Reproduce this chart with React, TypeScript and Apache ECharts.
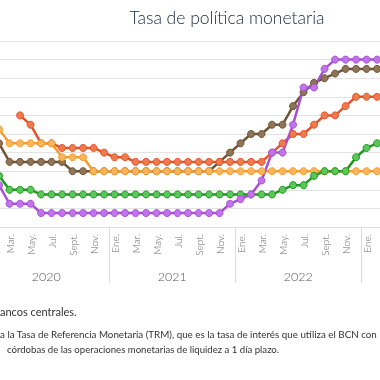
import React, { useEffect, useRef } from "react";
import * as echarts from "echarts";

const categories = [
  "2020-01","2020-02","2020-03","2020-04","2020-05","2020-06","2020-07","2020-08","2020-09","2020-10","2020-11","2020-12",
  "2021-01","2021-02","2021-03","2021-04","2021-05","2021-06","2021-07","2021-08","2021-09","2021-10","2021-11","2021-12",
  "2022-01","2022-02","2022-03","2022-04","2022-05","2022-06","2022-07","2022-08","2022-09","2022-10","2022-11","2022-12",
  "2023-01","2023-02",
];
const monthNames = ["Ene.","Feb.","Mar.","Abr.","May.","Jun.","Jul.","Ago.","Sept.","Oct.","Nov.","Dic."];

// Nicaragua (TRM)
const nicaragua = [null, null, null, 6.0, 5.5, 4.5, 4.5, 4.25, 4.25, 4.25, 4.25, 4.0,
  3.75, 3.75, 3.5, 3.5, 3.5, 3.5, 3.5, 3.5, 3.5, 3.5, 3.5, 3.5,
  3.5, 3.5, 3.5, 4.0, 4.5, 5.0, 5.0, 5.5, 6.0, 6.0, 6.5, 7.0,
  7.0, 7.0];
// Honduras
const honduras = [null, 5.25, 4.5, 4.5, 4.5, 4.5, 4.5, 3.75, 3.75, 3.75, 3.0, 3.0,
  3.0, 3.0, 3.0, 3.0, 3.0, 3.0, 3.0, 3.0, 3.0, 3.0, 3.0, 3.0,
  3.0, 3.0, 3.0, 3.0, 3.0, 3.0, 3.0, 3.0, 3.0, 3.0, 3.0, 3.0,
  3.0, 3.0];
// República Dominicana
const dominicana = [null, 4.5, 3.5, 3.5, 3.5, 3.5, 3.5, 3.5, 3.0, 3.0, 3.0, 3.0,
  3.0, 3.0, 3.0, 3.0, 3.0, 3.0, 3.0, 3.0, 3.0, 3.0, 3.5, 4.0,
  4.5, 5.0, 5.0, 5.5, 5.5, 6.5, 7.25, 7.75, 8.0, 8.25, 8.5, 8.5,
  8.5, 8.5];
// Guatemala
const guatemala = [null, 2.75, 2.0, 2.0, 2.0, 1.75, 1.75, 1.75, 1.75, 1.75, 1.75, 1.75,
  1.75, 1.75, 1.75, 1.75, 1.75, 1.75, 1.75, 1.75, 1.75, 1.75, 1.75, 1.75,
  1.75, 1.75, 1.75, 1.75, 2.0, 2.25, 2.25, 2.75, 3.0, 3.0, 3.0, 3.75,
  4.25, 4.5];
// Costa Rica
const costaRica = [null, 2.25, 1.25, 1.25, 1.25, 0.75, 0.75, 0.75, 0.75, 0.75, 0.75, 0.75,
  0.75, 0.75, 0.75, 0.75, 0.75, 0.75, 0.75, 0.75, 0.75, 0.75, 0.75, 1.25,
  1.5, 1.75, 2.5, 4.0, 4.0, 5.5, 7.5, 7.5, 8.5, 9.0, 9.0, 9.0,
  9.0, 9.0];

const title = "Tasa de política monetaria";
const footLines = [
  "ancos centrales.",
  "a la Tasa de Referencia Monetaria (TRM), que es la tasa de interés que utiliza el BCN con",
  "córdobas de las operaciones monetarias de liquidez a 1 día plazo.",
];

const FONT = "Lato, 'Noto Sans', sans-serif";
const SHIFT = 17; // the chart's left part lies outside the visible page

function mkSeries(name: string, data: (number | null)[], line: string, fill: string) {
  return {
    name,
    type: "line",
    data,
    symbol: "circle",
    symbolSize: 7,
    showAllSymbol: true,
    connectNulls: false,
    lineStyle: { color: line, width: 2.5 },
    itemStyle: { color: fill, borderColor: line, borderWidth: 1 },
  };
}

export default function App() {
  const ref = useRef<HTMLDivElement>(null);
  useEffect(() => {
    if (!ref.current) return;
    const chart = echarts.init(ref.current, undefined, { renderer: "svg" });
    const band = 10.5;
    chart.setOption({
      animation: false,
      title: {
        text: title,
        left: 222 + SHIFT,
        top: 3,
        textAlign: "center",
        textStyle: { fontFamily: FONT, fontSize: 17.5, fontWeight: 300, color: "#14243e" },
      },
      grid: { left: 0.3, top: 41, width: categories.length * band, height: 186, containLabel: false },
      xAxis: [
        {
          type: "category",
          data: categories,
          boundaryGap: true,
          axisLine: { show: true, lineStyle: { color: "#dddddd", width: 1 } },
          axisTick: { show: false },
          axisLabel: {
            interval: (i: number, v: string) => i > 0 && parseInt(v.slice(5), 10) % 2 === 1,
            formatter: (v: string) => monthNames[parseInt(v.slice(5), 10) - 1],
            rotate: 90,
            margin: 7,
            fontFamily: FONT,
            fontSize: 10,
            fontWeight: 300,
            color: "#666666",
          },
        },
        {
          type: "category",
          data: categories,
          boundaryGap: true,
          position: "bottom",
          axisLine: { show: false },
          axisTick: {
            show: true,
            interval: (i: number, v: string) => v.slice(5) === "01",
            length: 56,
            lineStyle: { color: "#dddddd", width: 1 },
          },
          axisLabel: {
            interval: (i: number, v: string) => v.slice(5) === "07",
            formatter: (v: string) => v.slice(0, 4),
            padding: [0, band, 0, 0],
            margin: 43,
            fontFamily: FONT,
            fontSize: 12.5,
            fontWeight: 300,
            color: "#555555",
          },
        },
      ],
      yAxis: {
        type: "value",
        min: 0,
        max: 10,
        interval: 1,
        axisLabel: { show: false },
        axisLine: { show: false },
        axisTick: { show: false },
        splitLine: { lineStyle: { color: "#e3e3e3", width: 1 } },
      },
      series: [
        mkSeries("República Dominicana", dominicana, "#6f5437", "#8f7558"),
        mkSeries("Nicaragua", nicaragua, "#e2552b", "#ef7a4e"),
        mkSeries("Honduras", honduras, "#f59e2e", "#f8b45e"),
        mkSeries("Guatemala", guatemala, "#1e9a1e", "#5bc75b"),
        mkSeries("Costa Rica", costaRica, "#a94fd6", "#c173ea"),
      ],
      graphic: [
        { type: "text", left: SHIFT, top: 306, style: { text: footLines[0], font: `11px ${FONT}`, fill: "#333333" } },
        { type: "text", left: SHIFT, top: 329, style: { text: footLines[1], font: `9.8px ${FONT}`, fill: "#333333" } },
        { type: "text", left: SHIFT + 7, top: 344, style: { text: footLines[2], font: `9.6px ${FONT}`, fill: "#333333" } },
      ],
    });
    return () => chart.dispose();
  }, []);
  return <div ref={ref} style={{ position: "fixed", left: -SHIFT, top: 0, width: 380 + SHIFT + 5, height: 380 }} />;
}
